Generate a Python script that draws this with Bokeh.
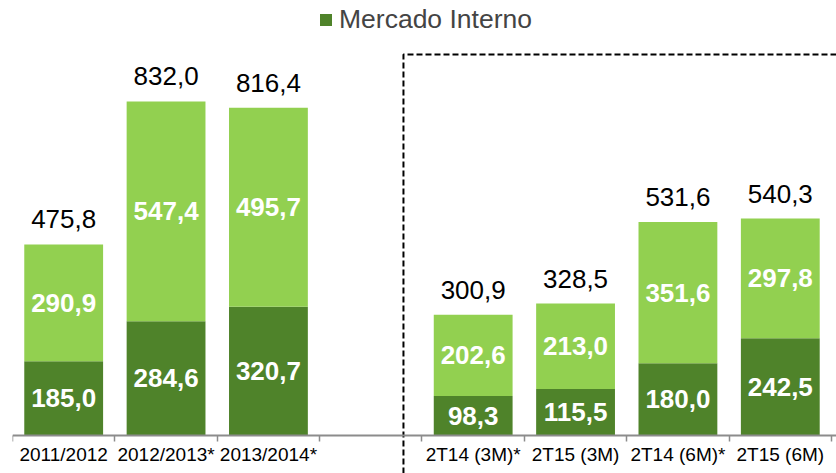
from bokeh.plotting import figure
from bokeh.models import Range1d, FixedTicker, ColumnDataSource, Legend, LegendItem
from bokeh.core.properties import value
from bokeh.embed import file_html
from bokeh.resources import INLINE

# ---- data ----
categories = ["2011/2012", "2012/2013*", "2013/2014*", "2T14 (3M)*", "2T15 (3M)", "2T14 (6M)*", "2T15 (6M)"]
slots = [0, 1, 2, 4, 5, 6, 7]          # slot 3 is an empty gap
mercado_interno = [185.0, 284.6, 320.7, 98.3, 115.5, 180.0, 242.5]
mercado_externo = [290.9, 547.4, 495.7, 202.6, 213.0, 351.6, 297.8]
totals = [475.8, 832.0, 816.4, 300.9, 328.5, 531.6, 540.3]

DARK = "#4f832a"
LIGHT = "#92d050"
FONT = "Liberation Sans"

def fmt(v):
    return f"{v:.1f}".replace(".", ",")

xc = [s + 0.5 for s in slots]
top_ext = [a + b for a, b in zip(mercado_interno, mercado_externo)]
src = ColumnDataSource(dict(
    x=xc,
    interno=mercado_interno,
    externo_top=top_ext,
    mid_int=[v / 2 for v in mercado_interno],
    mid_ext=[a + b / 2 for a, b in zip(mercado_interno, mercado_externo)],
    lab_int=[fmt(v) for v in mercado_interno],
    lab_ext=[fmt(v) for v in mercado_externo],
    total=totals,
    lab_tot=[fmt(v) for v in totals],
))

y_lo = -94.7
p = figure(width=836, height=473, output_backend="svg", toolbar_location=None,
           x_range=Range1d(0, 8.049), y_range=Range1d(y_lo, 1083.6),
           y_axis_location=None, min_border_left=12, min_border_right=0,
           min_border_top=0, min_border_bottom=0)
p.outline_line_color = None
p.xgrid.grid_line_color = None
p.ygrid.grid_line_color = None

bw = 0.77
r_int = p.vbar(x="x", bottom=0, top="interno", width=bw, source=src,
               fill_color=DARK, line_color=None)
p.vbar(x="x", bottom="interno", top="externo_top", width=bw, source=src,
       fill_color=LIGHT, line_color=None)

p.text(x="x", y="mid_int", text="lab_int", source=src, text_color="white",
       text_font=value(FONT), text_font_style="bold", text_font_size="26px",
       text_align="center", text_baseline="middle")
p.text(x="x", y="mid_ext", text="lab_ext", source=src, text_color="white",
       text_font=value(FONT), text_font_style="bold", text_font_size="26px",
       text_align="center", text_baseline="middle")
p.text(x="x", y="total", text="lab_tot", source=src, text_color="black",
       text_font=value(FONT), text_font_size="26px",
       text_align="center", text_baseline="middle", y_offset=-25)

# dashed separator
sep_x = 3.819
sep_top = 949
p.line(x=[sep_x, sep_x, 8.1], y=[y_lo, sep_top, sep_top], line_color="black",
       line_width=2, line_dash="6 3")

# axis
ax = p.xaxis[0]
ax.fixed_location = 0
ax.ticker = FixedTicker(ticks=xc, minor_ticks=list(range(0, 9)))
ax.major_label_overrides = {x: c for x, c in zip(xc, categories)}
ax.major_tick_line_color = None
ax.major_tick_out = 0
ax.major_tick_in = 0
ax.minor_tick_out = 6
ax.minor_tick_in = 0
ax.minor_tick_line_color = "#8c8c8c"
ax.minor_tick_line_width = 1.5
ax.axis_line_color = "#8c8c8c"
ax.axis_line_width = 2
ax.major_label_text_font = FONT
ax.major_label_text_font_size = "19px"
ax.major_label_text_color = "black"
ax.major_label_standoff = 3

legend = Legend(items=[LegendItem(label="Mercado Interno", renderers=[r_int])],
                location=(306, 438), orientation="horizontal",
                label_text_font=FONT, label_text_font_size="26.5px",
                glyph_width=15, glyph_height=15, label_standoff=6,
                padding=0, margin=0, border_line_color=None,
                background_fill_alpha=0)
p.add_layout(legend)

open("out.html", "w").write(file_html(p, INLINE))
